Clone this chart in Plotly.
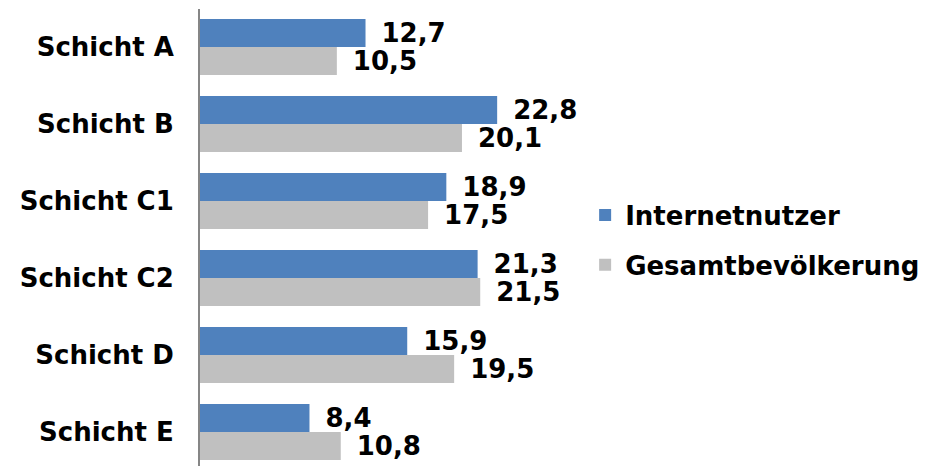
import plotly.graph_objects as go

# Anteile je Schicht in Prozent
schichten = ["Schicht A", "Schicht B", "Schicht C1", "Schicht C2", "Schicht D", "Schicht E"]
internetnutzer = [12.7, 22.8, 18.9, 21.3, 15.9, 8.4]
gesamtbevoelkerung = [10.5, 20.1, 17.5, 21.5, 19.5, 10.8]

FONT = "DejaVu Sans"
SIZE = 26
label_font = dict(family=FONT, size=SIZE, color="#000000", weight="bold")

# an en space keeps the value labels a little away from the bar ends
value_template = "\u2002%{x:.1f}"

fig = go.Figure()
fig.add_trace(go.Bar(
    y=schichten, x=internetnutzer, orientation="h", name="Internetnutzer",
    marker=dict(color="#4F81BD", line=dict(width=0)),
    texttemplate=value_template, textposition="outside", textfont=label_font,
    constraintext="none", cliponaxis=False, legendgroup="a",
))
fig.add_trace(go.Bar(
    y=schichten, x=gesamtbevoelkerung, orientation="h", name="Gesamtbevölkerung",
    marker=dict(color="#C0C0C0", line=dict(width=0)),
    texttemplate=value_template, textposition="outside", textfont=label_font,
    constraintext="none", cliponaxis=False, legendgroup="b",
))

fig.update_layout(
    width=926, height=466,
    margin=dict(l=200, r=335, t=9, b=0),
    paper_bgcolor="white", plot_bgcolor="white",
    barmode="group", bargap=0.273, bargroupgap=0,
    separators=",.",
    font=dict(family=FONT, size=SIZE, color="#000000"),
    xaxis=dict(range=[0, 30], visible=False, showgrid=False, zeroline=False),
    yaxis=dict(
        type="category", range=[5.44, -0.494],
        showline=True, linecolor="#868686", linewidth=2,
        showgrid=False, zeroline=False, ticks="",
        ticklabelstandoff=19,
        tickfont=dict(family=FONT, size=SIZE, color="#000000", weight="bold"),
    ),
    legend=dict(
        x=0.985, xanchor="left", y=0.4945, yanchor="middle",
        traceorder="grouped", tracegroupgap=13,
        font=dict(family=FONT, size=SIZE, color="#000000", weight="bold"),
        bgcolor="rgba(0,0,0,0)",
    ),
)

fig.write_html("out.html")
